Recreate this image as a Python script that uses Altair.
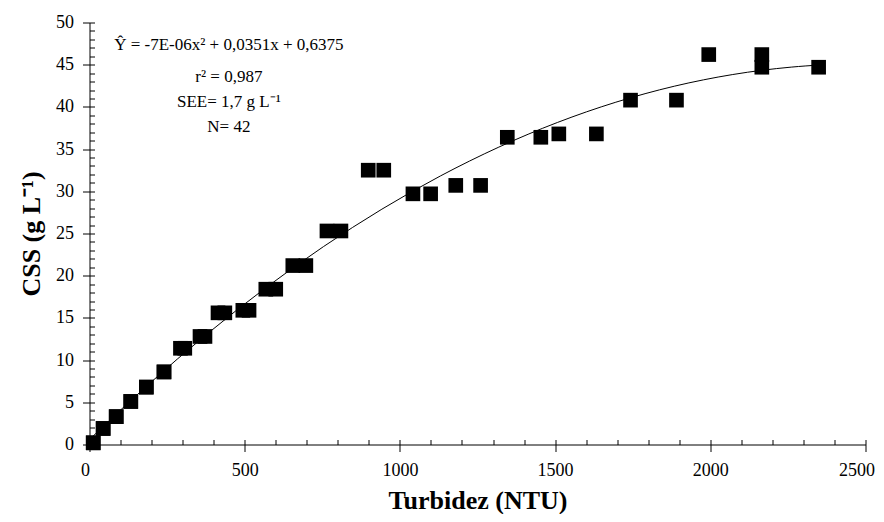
import altair as alt
import pandas as pd

# Data (each value appears in pairs; N = 42)
turbidez = [12, 12, 44, 44, 86, 86, 133, 133, 183, 183, 240, 240,
            293, 307, 356, 372, 414, 436, 494, 514, 568, 600, 655, 697,
            765, 810, 898, 948, 1042, 1099, 1180, 1260,
            1346, 1454, 1512, 1633, 1743, 1891, 1995, 2166, 2166, 2349]
css = [0.2, 0.2, 1.9, 1.9, 3.3, 3.3, 5.1, 5.1, 6.8, 6.8, 8.6, 8.6,
       11.4, 11.4, 12.8, 12.8, 15.6, 15.6, 15.9, 15.9, 18.4, 18.4, 21.2, 21.2,
       25.3, 25.3, 32.5, 32.5, 29.7, 29.7, 30.7, 30.7,
       36.4, 36.4, 36.8, 36.8, 40.8, 40.8, 46.2, 46.2, 44.7, 44.7]

annot_text = ["Ŷ = -7E-06x² + 0,0351x + 0,6375", "r² = 0,987", "SEE= 1,7 g L⁻¹", "N= 42"]
annot_x = [449, 449, 449, 449]
annot_y = [46.75, 43.0, 39.95, 37.05]

x_major = [0, 500, 1000, 1500, 2000, 2500]
y_major = [0, 5, 10, 15, 20, 25, 30, 35, 40, 45, 50]
x_minor = list(range(0, 2501, 100))
y_minor = list(range(0, 51, 1))

df = pd.DataFrame({"Turbidez": turbidez, "CSS": css})
ann = pd.DataFrame({"x": annot_x, "y": annot_y, "t": annot_text})

FONT = "Liberation Serif"
xscale = alt.Scale(domain=[0, 2500], nice=False, zero=False)
yscale = alt.Scale(domain=[0, 50], nice=False, zero=False)

base = alt.Chart(df)

minor = base.mark_point(opacity=0).encode(
    x=alt.X("Turbidez:Q", scale=xscale,
            axis=alt.Axis(orient="bottom", values=x_minor, labels=False, domain=False,
                          tickSize=5, offset=-5, title="", grid=False,
                          tickColor="black", tickWidth=1)),
    y=alt.Y("CSS:Q", scale=yscale,
            axis=alt.Axis(orient="left", values=y_minor, labels=False, domain=False,
                          tickSize=5, offset=-5, title="", grid=False,
                          tickColor="black", tickWidth=1)),
)

fit = base.transform_regression(
    "Turbidez", "CSS", method="poly", order=2, extent=[0, 2355]
).mark_line(color="black", strokeWidth=1).encode(
    x=alt.X("Turbidez:Q", scale=xscale, axis=None),
    y=alt.Y("CSS:Q", scale=yscale, axis=None),
)

points = base.mark_square(size=215, color="black", opacity=1).encode(
    x=alt.X("Turbidez:Q", scale=xscale,
            axis=alt.Axis(orient="bottom", values=x_major, format="d", grid=False,
                          tickSize=7, labelPadding=10, tickColor="black", domainColor="black",
                          labelColor="black", labelFont=FONT, labelFontSize=18,
                          labelFlush=True, labelFlushOffset=9,
                          title="Turbidez (NTU)", titleFont=FONT, titleFontSize=26,
                          titleFontWeight="bold", titleColor="black",
                          titleX=388, titleY=56, titleBaseline="middle", titleAlign="center")),
    y=alt.Y("CSS:Q", scale=yscale,
            axis=alt.Axis(orient="left", values=y_major, format="d", grid=False,
                          tickSize=7, labelPadding=9, tickColor="black", domainColor="black",
                          labelColor="black", labelFont=FONT, labelFontSize=18,
                          title="CSS (g L⁻¹)", titleFont=FONT, titleFontSize=26,
                          titleFontWeight="bold", titleColor="black", titleAngle=270,
                          titleX=-58, titleY=211, titleBaseline="middle", titleAlign="center")),
)

text = alt.Chart(ann).mark_text(
    font=FONT, fontSize=17, align="center", baseline="alphabetic", color="black"
).encode(
    x=alt.X("x:Q", scale=xscale, axis=None),
    y=alt.Y("y:Q", scale=yscale, axis=None),
    text="t:N",
)

chart = alt.layer(minor, fit, points, text).resolve_axis(
    x="independent", y="independent"
).properties(
    width=776, height=422,
    autosize=alt.AutoSizeParams(type="none"),
    padding={"left": 81.5, "top": 14.5, "right": 10.5, "bottom": 69.5},
    background="white",
).configure(font=FONT).configure_view(stroke=None)

chart.save("out.html", embed_options={"renderer": "svg", "actions": False})
